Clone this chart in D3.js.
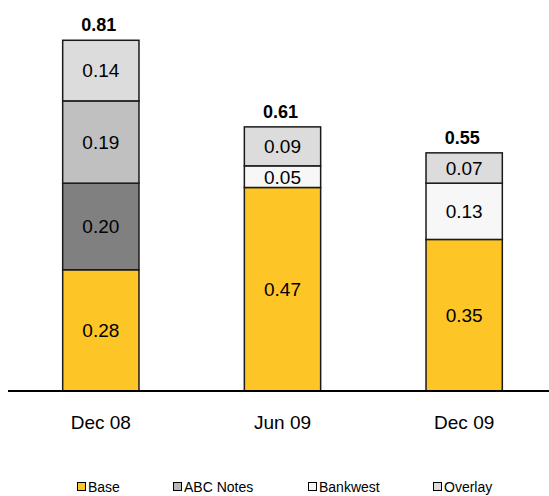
<!DOCTYPE html>
<html>
<head>
<meta charset="utf-8">
<script src="https://cdn.jsdelivr.net/npm/d3@7"></script>
<style>
  body { margin: 0; background: #fff; }
  svg { display: block; font-family: "Liberation Sans", Arial, sans-serif; }
</style>
</head>
<body>
<div id="chart"></div>
<script>
var categories = ["Dec 08", "Jun 09", "Dec 09"];

// stacked bottom to top
var seriesNames = ["Base", "Other", "ABC Notes", "Bankwest", "Overlay"];
var base     = [0.28, 0.47, 0.35];
var other    = [0.20, 0, 0];
var abcNotes = [0.19, 0, 0];
var bankwest = [0, 0.05, 0.13];
var overlay  = [0.14, 0.09, 0.07];
var totals   = [0.81, 0.61, 0.55];

var legendNames = ["Base", "ABC Notes", "Bankwest", "Overlay"];

var colors = {
	"Base": "#fec526",
	"Other": "#808080",
	"ABC Notes": "#c0c0c0",
	"Bankwest": "#f7f7f7",
	"Overlay": "#dcdcdc"
};

var width = 549,
	height = 496,
	axisY = 391;

var svg = d3.select("#chart")
	.append("svg")
	.attr("width", width)
	.attr("height", height);

var rows = categories.map(function(c, i) {
	return {
		cat: c,
		"Base": base[i],
		"Other": other[i],
		"ABC Notes": abcNotes[i],
		"Bankwest": bankwest[i],
		"Overlay": overlay[i]
	};
});

var x = d3.scaleBand()
	.domain(categories)
	.range([10, 555])
	.paddingInner(0.58)
	.paddingOuter(0.29);

var y = d3.scaleLinear()
	.domain([0, 0.9])
	.range([axisY, axisY - 0.9 * 433]);

var stack = d3.stack().keys(seriesNames);
var layers = stack(rows);

var layerG = svg.selectAll("g.layer")
	.data(layers)
	.enter().append("g")
	.attr("class", "layer")
	.attr("fill", function(d) { return colors[d.key]; });

layerG.selectAll("rect")
	.data(function(d) { return d.filter(function(p) { return p[1] - p[0] > 0; }); })
	.enter().append("rect")
	.attr("x", function(d) { return x(d.data.cat); })
	.attr("y", function(d) { return y(d[1]); })
	.attr("width", x.bandwidth())
	.attr("height", function(d) { return y(d[0]) - y(d[1]); })
	.attr("stroke", "#1a1a1a")
	.attr("stroke-width", 1.5);

// segment value labels
layerG.selectAll("text")
	.data(function(d) { return d.filter(function(p) { return p[1] - p[0] > 0; }); })
	.enter().append("text")
	.attr("x", function(d) { return x(d.data.cat) + x.bandwidth() / 2; })
	.attr("y", function(d) { return (y(d[0]) + y(d[1])) / 2; })
	.attr("dy", "0.36em")
	.attr("text-anchor", "middle")
	.attr("font-size", 19)
	.attr("fill", "#000")
	.text(function(d) { return d3.format(".2f")(d[1] - d[0]); });

// totals
svg.selectAll("text.total")
	.data(rows)
	.enter().append("text")
	.attr("class", "total")
	.attr("x", function(d) { return x(d.cat) + x.bandwidth() / 2 - 2; })
	.attr("y", function(d, i) { return y(totals[i]) - 9; })
	.attr("text-anchor", "middle")
	.attr("font-size", 18)
	.attr("font-weight", "bold")
	.text(function(d, i) { return d3.format(".2f")(totals[i]); });

// x axis
var xAxis = d3.axisBottom(x).tickSize(0).tickPadding(0);
var xAxisG = svg.append("g")
	.attr("transform", "translate(0," + axisY + ")")
	.call(xAxis);
xAxisG.select(".domain").remove();
xAxisG.selectAll("text")
	.attr("font-size", 19)
	.attr("font-family", "Liberation Sans, Arial, sans-serif")
	.attr("fill", "#000")
	.attr("y", 25);

svg.append("line")
	.attr("x1", 8)
	.attr("x2", width)
	.attr("y1", axisY)
	.attr("y2", axisY)
	.attr("stroke", "#000")
	.attr("stroke-width", 2);

// legend
var legendX = [77, 173, 308, 433];
var legend = svg.selectAll("g.legend")
	.data(legendNames)
	.enter().append("g")
	.attr("class", "legend")
	.attr("transform", function(d, i) { return "translate(" + legendX[i] + ",482)"; });

legend.append("rect")
	.attr("x", 0.5)
	.attr("y", 0.5)
	.attr("width", 8)
	.attr("height", 8)
	.attr("fill", function(d) { return d === "ABC Notes" ? "#b8b8b8" : colors[d]; })
	.attr("stroke", "#000")
	.attr("stroke-width", 1);

legend.append("text")
	.attr("x", 11)
	.attr("y", 10)
	.attr("font-size", 14)
	.text(function(d) { return d; });
</script>
</body>
</html>
